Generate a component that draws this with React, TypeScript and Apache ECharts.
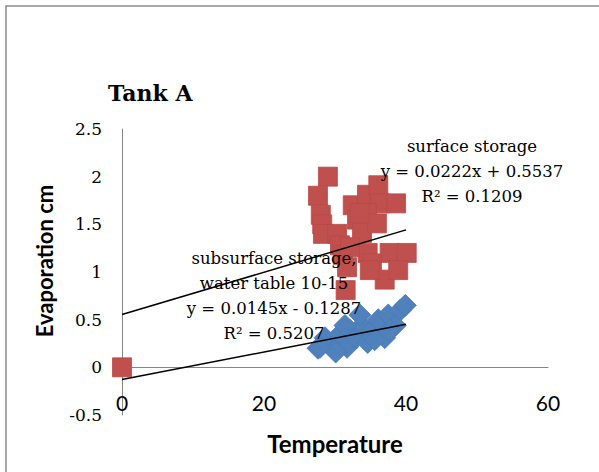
import React, { useEffect, useRef } from 'react';
import * as echarts from 'echarts';

const xTicks = [0, 20, 40, 60];
const yTicks = [-0.5, 0, 0.5, 1, 1.5, 2, 2.5];

const surfaceX = [0, 29.0, 27.6, 28.0, 28.2, 28.3, 30.3, 30.7, 31.1, 31.5, 32.5, 34.5, 36.1, 36.3, 38.6, 34.5, 33.1, 33.8, 35.9, 34.6, 37.7, 40.1, 35.2, 37.0, 34.9, 38.9, 32.1, 31.7, 33.5];
const surfaceY = [0, 2.0, 1.8, 1.6, 1.5, 1.4, 1.4, 1.28, 1.18, 0.81, 1.7, 1.81, 1.91, 1.72, 1.72, 1.62, 1.55, 1.41, 1.51, 1.2, 1.2, 1.2, 1.09, 0.92, 1.02, 1.02, 1.26, 1.05, 1.62];

const subsurfaceX = [27.6, 29.2, 28.6, 30.7, 31.7, 32.1, 33.0, 33.8, 34.6, 35.2, 36.1, 37.0, 37.5, 38.5, 39.2, 39.9, 33.5, 31.4, 35.6, 37.7, 30.1, 27.9];
const subsurfaceY = [0.2, 0.24, 0.31, 0.35, 0.21, 0.39, 0.31, 0.44, 0.26, 0.39, 0.5, 0.31, 0.55, 0.44, 0.6, 0.65, 0.55, 0.44, 0.29, 0.39, 0.16, 0.21];

const surfaceSlope = 0.0222;
const surfaceIntercept = 0.5537;
const surfaceR2 = 0.1209;
const subSlope = 0.0145;
const subIntercept = -0.1287;
const subR2 = 0.5207;
const trendRange = [0, 40];

function eq(m: number, b: number) {
  return `y = ${m.toFixed(4)}x ${b < 0 ? '-' : '+'} ${Math.abs(b).toFixed(4)}`;
}

export default function App() {
  const ref = useRef<HTMLDivElement>(null);
  useEffect(() => {
    const chart = echarts.init(ref.current!, null, { renderer: 'svg' });
    const serif = 'DejaVu Serif';
    const sans = 'Lato';
    chart.setOption({
      animation: false,
      backgroundColor: '#fff',
      title: {
        text: 'Tank A',
        left: 108,
        top: 82,
        padding: 0,
        textStyle: { fontFamily: serif, fontWeight: 'bold', fontSize: 22, color: '#000' },
      },
      grid: { left: 122, right: 51, top: 129, bottom: 57 },
      xAxis: [
        {
          type: 'value', min: xTicks[0], max: xTicks[xTicks.length - 1], interval: 20,
          axisLine: { onZero: true, lineStyle: { color: '#868686', width: 1 } },
          axisTick: { show: false }, axisLabel: { show: false }, splitLine: { show: false },
        },
        {
          type: 'value', min: xTicks[0], max: xTicks[xTicks.length - 1], interval: 20,
          position: 'bottom',
          axisLine: { show: false, onZero: false },
          axisTick: { show: false }, splitLine: { show: false },
          axisLabel: { margin: -13, verticalAlign: 'middle', fontFamily: sans, fontSize: 21, color: '#000' },
          name: 'Temperature', nameLocation: 'middle', nameGap: 16,
          nameTextStyle: { fontFamily: sans, fontWeight: 'bold', fontSize: 24, color: '#000', verticalAlign: 'top' },
        },
      ],
      yAxis: {
        type: 'value', min: yTicks[0], max: yTicks[yTicks.length - 1], interval: 0.5,
        axisLine: { show: true, onZero: false, lineStyle: { color: '#868686', width: 1 } },
        axisTick: { show: false }, splitLine: { show: false },
        axisLabel: { margin: 20, fontFamily: serif, fontSize: 17, color: '#000' },
        name: 'Evaporation cm', nameLocation: 'middle', nameGap: 67, nameRotate: 90,
        nameTextStyle: { fontFamily: sans, fontWeight: 'bold', fontSize: 22, color: '#000', padding: [0, 0, 0, 22] },
      },
      graphic: [
        {
          type: 'rect', silent: true, z: -10,
          shape: { x: 6, y: 6, width: 800, height: 700 },
          style: { fill: 'none', stroke: '#8a8a8a', lineWidth: 1.5 },
        },
        {
          type: 'text', x: 472, y: 134, z: 100,
          style: {
            text: `surface storage\n${eq(surfaceSlope, surfaceIntercept)}\nR² = ${surfaceR2}`,
            align: 'center', verticalAlign: 'top', fontFamily: serif, fontSize: 16.5, lineHeight: 25, fill: '#000',
          },
        },
        {
          type: 'text', x: 274, y: 246, z: 100,
          style: {
            text: `subsurface storage,\nwater table 10-15\n${eq(subSlope, subIntercept)}\nR² = ${subR2}`,
            align: 'center', verticalAlign: 'top', fontFamily: serif, fontSize: 16.5, lineHeight: 25, fill: '#000',
          },
        },
      ],
      series: [
        {
          type: 'scatter', name: 'subsurface storage', symbol: 'diamond', symbolSize: 22,
          itemStyle: { color: '#4F81BD', borderColor: '#4A7AB5', borderWidth: 0.8, opacity: 1 },
          data: subsurfaceX.map((x, i) => [x, subsurfaceY[i]]),
        },
        {
          type: 'scatter', name: 'surface storage', symbol: 'rect', symbolSize: 19,
          itemStyle: { color: '#C0504D', borderColor: '#B84A47', borderWidth: 0.8, opacity: 1 },
          data: surfaceX.map((x, i) => [x, surfaceY[i]]),
        },
        {
          type: 'line', symbol: 'none', z: 5,
          lineStyle: { color: '#000', width: 1.5 },
          data: trendRange.map((x) => [x, surfaceSlope * x + surfaceIntercept]),
        },
        {
          type: 'line', symbol: 'none', z: 5,
          lineStyle: { color: '#000', width: 1.5 },
          data: trendRange.map((x) => [x, subSlope * x + subIntercept]),
        },
      ],
    });
    return () => chart.dispose();
  }, []);
  return <div ref={ref} style={{ position: 'fixed', left: 0, top: 0, width: 599, height: 472, background: '#fff' }} />;
}
